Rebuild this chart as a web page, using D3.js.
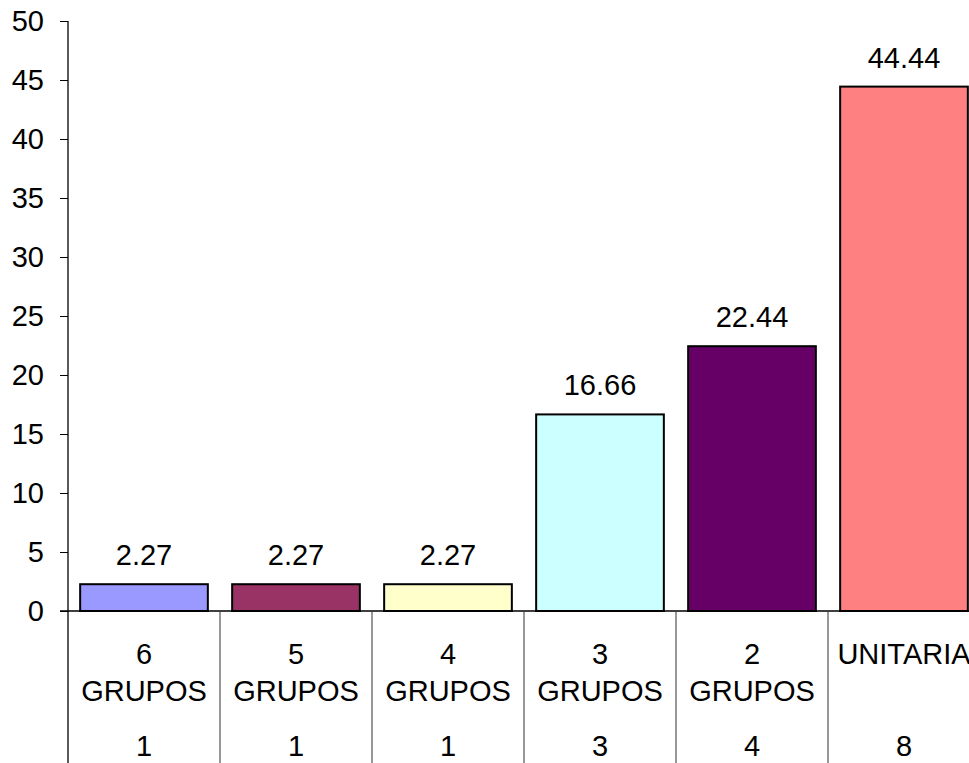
<!DOCTYPE html>
<html><head><meta charset="utf-8">
<script src="https://cdn.jsdelivr.net/npm/d3@7"></script>
<style>body{margin:0;background:#fff;overflow:hidden}svg{display:block;font-family:Arial,"Liberation Sans",sans-serif}</style>
</head><body>
<svg id="c" width="969" height="763"></svg>
<script>
const groups = ["6", "5", "4", "3", "2", "UNITARIA"];
const groupWord = ["GRUPOS", "GRUPOS", "GRUPOS", "GRUPOS", "GRUPOS", ""];
const counts = ["1", "1", "1", "3", "4", "8"];
const values = [2.27, 2.27, 2.27, 16.66, 22.44, 44.44];
const valueLabels = ["2.27", "2.27", "2.27", "16.66", "22.44", "44.44"];
const colors = ["#9999FF", "#993366", "#FFFFCC", "#CCFFFF", "#660066", "#FF8080"];
const yTicks = [0, 5, 10, 15, 20, 25, 30, 35, 40, 45, 50];

const svg = d3.select("#c");
const x = d3.scaleBand().domain(groups).range([68, 980]).padding(0);
const y = d3.scaleLinear().domain([0, 50]).range([611, 21]);
const bw = x.bandwidth();
const fs = 29;

// bars
svg.selectAll("rect.bar").data(groups).join("rect")
  .attr("x", d => x(d) + bw * 0.08)
  .attr("width", bw * 0.84)
  .attr("y", (d, i) => y(values[i]))
  .attr("height", (d, i) => y(0) - y(values[i]))
  .attr("fill", (d, i) => colors[i])
  .attr("stroke", "#000").attr("stroke-width", 2);

// value labels
svg.selectAll("text.val").data(groups).join("text")
  .attr("x", d => x(d) + bw / 2)
  .attr("y", (d, i) => y(values[i]) - 19)
  .attr("text-anchor", "middle").attr("font-size", fs).attr("fill", "#000")
  .text((d, i) => valueLabels[i]);

// y axis
const yAxis = d3.axisLeft(y).tickValues(yTicks).tickSize(8).tickPadding(16);
const ga = svg.append("g").attr("transform", "translate(68,0)").call(yAxis);
ga.select(".domain").remove();
ga.selectAll(".tick line").attr("stroke", "#000");
ga.selectAll(".tick text").attr("font-size", fs).attr("font-family", "Arial, 'Liberation Sans', sans-serif").attr("fill", "#000");
svg.append("line").attr("x1", 68).attr("x2", 68).attr("y1", y(50)).attr("y2", 763).attr("stroke", "#000").attr("stroke-width", 1.3);

// baseline
svg.append("line").attr("x1", 60).attr("x2", 980).attr("y1", y(0)).attr("y2", y(0)).attr("stroke", "#000").attr("stroke-width", 1.3);

// category separators
svg.selectAll("line.sep").data(groups.slice(1)).join("line")
  .attr("x1", d => x(d)).attr("x2", d => x(d))
  .attr("y1", y(0)).attr("y2", 763)
  .attr("stroke", "#333").attr("stroke-width", 1);

// category labels
const cat = svg.selectAll("g.cat").data(groups).join("g");
cat.append("text").attr("x", d => x(d) + bw / 2).attr("y", 664)
  .attr("text-anchor", "middle").attr("font-size", fs).text(d => d);
cat.append("text").attr("x", d => x(d) + bw / 2).attr("y", 701)
  .attr("text-anchor", "middle").attr("font-size", fs).text((d, i) => groupWord[i]);
cat.append("text").attr("x", d => x(d) + bw / 2).attr("y", 756)
  .attr("text-anchor", "middle").attr("font-size", fs).text((d, i) => counts[i]);
</script>
</body></html>
